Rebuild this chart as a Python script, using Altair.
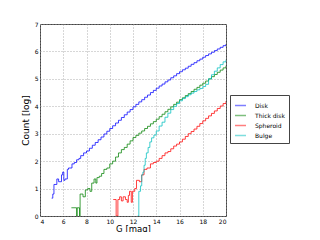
import altair as alt
import pandas as pd

series_names = ["Disk", "Thick disk", "Spheroid", "Bulge"]
series_colors = ["#0000ff", "#008000", "#ff0000", "#00bfbf"]

disk_x = [5.0, 5.1, 5.2, 5.45, 5.6, 5.85, 5.95, 6.05, 6.15, 6.35, 6.45, 6.75, 6.95, 7.15, 7.35, 7.5, 7.75,
          8.0, 8.25, 8.5, 8.75, 9.0, 9.25, 9.5, 9.75, 10.0, 10.25, 10.5, 10.75, 11.0, 11.25, 11.5, 11.75,
          12.0, 12.25, 12.5, 12.75, 13.0, 13.25, 13.5, 13.75, 14.0, 14.25, 14.5, 14.75, 15.0, 15.25, 15.5,
          15.75, 16.0, 16.25, 16.5, 16.75, 17.0, 17.25, 17.5, 17.75, 18.0, 18.25, 18.5, 18.75, 19.0, 19.25,
          19.5, 19.75, 20.0]
disk_y = [0.65, 0.8, 1.15, 1.35, 1.25, 1.5, 1.6, 1.3, 1.35, 1.7, 1.75, 1.9, 1.95, 2.05, 2.1, 2.2, 2.3,
          2.37, 2.47, 2.58, 2.68, 2.78, 2.88, 2.99, 3.09, 3.19, 3.29, 3.39, 3.49, 3.59, 3.69, 3.79, 3.88,
          3.98, 4.07, 4.16, 4.24, 4.33, 4.41, 4.5, 4.58, 4.66, 4.74, 4.81, 4.89, 4.96, 5.04, 5.11,
          5.19, 5.26, 5.33, 5.39, 5.46, 5.53, 5.59, 5.66, 5.72, 5.79, 5.85, 5.91, 5.97, 6.03, 6.09,
          6.15, 6.21, 6.27]

thick_x = [6.7, 7.15, 7.2, 7.4, 7.45, 7.7, 7.9, 8.1, 8.3, 8.45, 8.65, 8.8, 8.9, 9.1, 9.3, 9.5, 9.75,
           10.0, 10.25, 10.5, 10.75, 11.0, 11.25, 11.5, 11.75, 12.0, 12.25, 12.5, 12.75, 13.0, 13.25,
           13.5, 13.75, 14.0, 14.25, 14.5, 14.75, 15.0, 15.25, 15.5, 15.75, 16.0, 16.25, 16.5, 16.75,
           17.0, 17.25, 17.5, 17.75, 18.0, 18.25, 18.5, 18.75, 19.0, 19.25, 19.5, 19.75, 20.0]
thick_y = [0.3, 0.0, 0.3, 0.0, 0.8, 0.7, 0.95, 1.0, 0.9, 1.2, 1.35, 1.2, 1.4, 1.45, 1.55, 1.7, 1.75,
           1.9, 2.0, 2.15, 2.3, 2.42, 2.5, 2.62, 2.74, 2.86, 2.94, 3.02, 3.1, 3.19, 3.27,
           3.36, 3.44, 3.53, 3.62, 3.71, 3.8, 3.89, 3.98, 4.07, 4.15, 4.24, 4.31, 4.39, 4.46,
           4.54, 4.62, 4.69, 4.77, 4.84, 4.92, 5.0, 5.08, 5.16, 5.24, 5.32, 5.4, 5.48]

sph_x = [10.3, 10.55, 10.7, 10.85, 11.0, 11.15, 11.35, 11.5, 11.6, 11.7, 11.85, 11.95, 12.15, 12.3,
         12.55, 12.75, 12.95, 13.2, 13.5, 13.75, 14.0, 14.25, 14.5, 14.75, 15.0, 15.25, 15.5, 15.75,
         16.0, 16.25, 16.5, 16.75, 17.0, 17.25, 17.5, 17.75, 18.0, 18.25, 18.5, 18.75, 19.0, 19.25,
         19.5, 19.75, 20.0]
sph_y = [0.6, 0.0, 0.6, 0.7, 0.55, 0.7, 0.6, 0.5, 0.75, 0.9, 0.5, 0.9, 1.0, 1.3,
         1.25, 1.5, 1.7, 1.75, 1.9, 1.95, 2.0, 2.1, 2.2, 2.3, 2.35, 2.45, 2.55, 2.62,
         2.7, 2.8, 2.9, 3.0, 3.08, 3.17, 3.27, 3.37, 3.47, 3.56, 3.65, 3.74, 3.83, 3.92,
         4.01, 4.1, 4.19]

bulge_x = [12.4, 12.5, 12.65, 12.75, 12.85, 12.95, 13.05, 13.15, 13.3, 13.45, 13.6, 13.8, 14.0, 14.25,
           14.5, 14.75, 15.0, 15.25, 15.5, 15.75, 16.0, 16.25, 16.5, 16.75, 17.0, 17.25, 17.5, 17.75,
           18.0, 18.25, 18.5, 18.75, 19.0, 19.25, 19.5, 19.75, 20.0]
bulge_y = [0.0, 0.9, 1.1, 1.5, 1.6, 1.85, 2.1, 2.3, 2.5, 2.7, 2.85, 2.95, 3.1, 3.28,
           3.42, 3.6, 3.75, 3.88, 4.0, 4.1, 4.2, 4.28, 4.35, 4.42, 4.48, 4.54, 4.6, 4.65,
           4.72, 4.8, 5.0, 5.15, 5.28, 5.4, 5.52, 5.62, 5.7]

x_ticks = [4, 6, 8, 10, 12, 14, 16, 18, 20]
y_ticks = [0, 1, 2, 3, 4, 5, 6, 7]

rows = []
for name, xs, ys in zip(series_names, [disk_x, thick_x, sph_x, bulge_x], [disk_y, thick_y, sph_y, bulge_y]):
    for xv, yv in zip(xs, ys):
        rows.append({"G": xv, "count": yv, "component": name})
df = pd.DataFrame(rows)

chart = alt.Chart(df).mark_line(interpolate="step-after", strokeWidth=1, opacity=0.75, clip=True).encode(
    x=alt.X("G:Q", scale=alt.Scale(domain=[4, 20], nice=False),
            axis=alt.Axis(values=x_ticks, title="G [mag]", format="d",
                          titleY=15, titleBaseline="alphabetic")),
    y=alt.Y("count:Q", scale=alt.Scale(domain=[0, 7], nice=False),
            axis=alt.Axis(values=y_ticks, title="Count [log]", format="d")),
    color=alt.Color("component:N", scale=alt.Scale(domain=series_names, range=series_colors),
                    legend=alt.Legend(title=None, orient="none", legendX=190, legendY=71,
                                      symbolType="M-1,0H1", symbolStrokeWidth=1.5, symbolSize=121,
                                      labelFontSize=6, labelFont="DejaVu Sans", labelColor="#000",
                                      labelOffset=8, padding=4, rowPadding=0, strokeColor="#444",
                                      fillColor="white", cornerRadius=0, symbolOpacity=0.5,
                                      labelLimit=60)),
    detail="component:N",
).properties(
    width=186, height=192,
    autosize=alt.AutoSizeParams(type="none"),
    padding={"left": 32, "top": 16, "right": 86, "bottom": 16},
).configure_view(
    stroke="#444", strokeWidth=1
).configure_axis(
    labelFont="DejaVu Sans", labelFontSize=6, labelColor="#000",
    titleFont="DejaVu Sans", titleFontSize=8.5, titleFontWeight="normal", titleColor="#000",
    grid=True, gridColor="#999", gridDash=[1, 2], gridWidth=0.8,
    domain=False, ticks=False, labelPadding=2,
).configure_axisY(titlePadding=4, titleFontSize=9)

chart.save("out.html", embed_options={"renderer": "svg", "actions": False})
